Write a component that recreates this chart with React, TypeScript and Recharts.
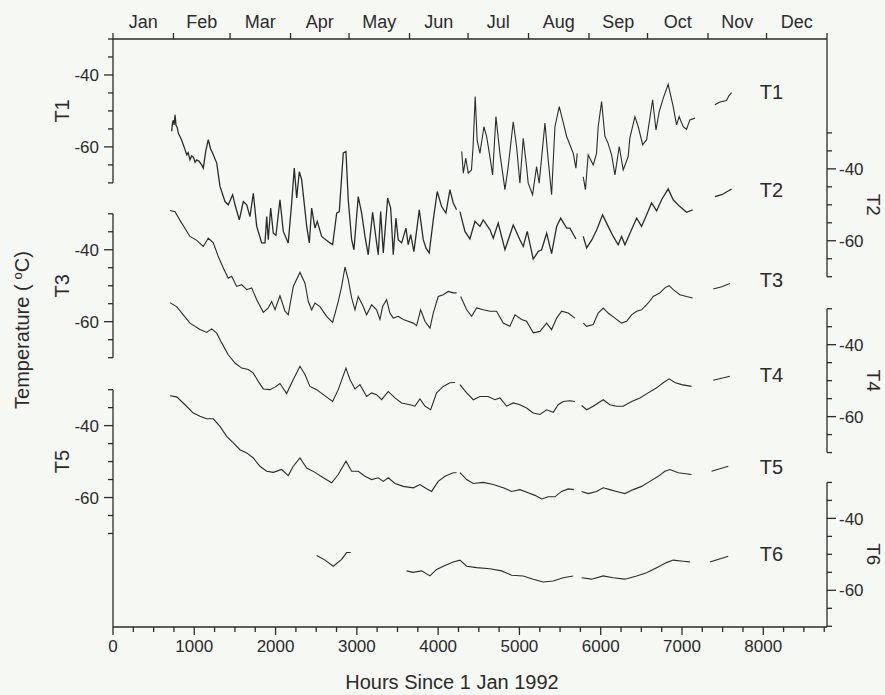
import { LineChart, Line, XAxis, YAxis, ReferenceLine, ReferenceDot } from "recharts";

type Pt = [number, number | null];

const YEAR_HOURS = 8784;
const MONTHS = ["Jan", "Feb", "Mar", "Apr", "May", "Jun", "Jul", "Aug", "Sep", "Oct", "Nov", "Dec"];
const MONTH_STARTS = [0, 744, 1440, 2184, 2904, 3648, 4368, 5112, 5856, 6576, 7320, 8040, 8784];
const HOUR_TICKS = [0, 1000, 2000, 3000, 4000, 5000, 6000, 7000, 8000];
const AXIS_TEMPS = [-30, -35, -40, -45, -50, -55, -60, -65, -70];
const LABELLED_TEMPS = [-40, -60];

// hours since 1 Jan 1992, temperature (C); null = gap in record
const T1: Pt[] = [
  [4290, -61.3], [4310, -67.3], [4340, -63.1], [4370, -67.3], [4410, -66.4], [4430, -59.9], [4456, -46],
  [4480, -58.1], [4514, -61.8], [4563, -54.4], [4596, -57.1], [4637, -62.7], [4670, -67.8], [4711, -51.6],
  [4760, -61.8], [4822, -71.9], [4862, -65.5], [4924, -53], [4965, -59.9], [5006, -70.1], [5047, -57.6],
  [5088, -65.5], [5108, -70.1], [5162, -73.3], [5211, -65.5], [5243, -70.1], [5314, -53.4], [5354, -63.6],
  [5396, -73.3], [5437, -54.4], [5490, -48.8], [5531, -52.5], [5581, -57.1], [5621, -59.4], [5662, -61.8],
  [5695, -65.9], [5711, -61.8], [5750, null], [5785, -68.3], [5812, -71.9], [5846, -62.2], [5908, -65],
  [5949, -61.8], [5969, -54.4], [6011, -47.4], [6052, -57.1], [6089, -58.9], [6134, -62.2], [6175, -67.8],
  [6228, -59.9], [6277, -66.4], [6338, -62.7], [6359, -57.5], [6421, -51.6], [6462, -54.4], [6516, -59.4],
  [6565, -58], [6639, -46.9], [6680, -55.3], [6720, -50.2], [6769, -46.5], [6830, -42.6], [6892, -48.8],
  [6933, -53.9], [6965, -51.6], [7015, -54.4], [7056, -55.1], [7097, -52.5], [7159, -52], [7300, null],
  [7405, -48.3], [7466, -47.5], [7548, -47.1], [7577, -45.8], [7610, -44.9],
];

const T2: Pt[] = [
  [722, -29.6], [732, -27.2], [742, -26.5], [752, -27.8], [763, -25], [775, -27.9], [790, -28.5], [805, -30.2],
  [824, -31], [840, -31.8], [865, -33.3], [885, -34.6], [907, -36.1], [925, -35.5], [947, -37.5], [968, -36.4],
  [990, -36.8], [1010, -38.2], [1030, -37.5], [1060, -37.9], [1091, -38.9], [1111, -39.8], [1140, -35.2],
  [1172, -31.9], [1200, -34.4], [1234, -36.1], [1276, -38.4], [1316, -44.9], [1378, -49.1], [1418, -50],
  [1472, -47.2], [1501, -50], [1554, -54.2], [1603, -49.1], [1645, -50], [1685, -53.3], [1726, -46.8],
  [1768, -56], [1829, -60.6], [1870, -60.6], [1891, -53.3], [1910, -59.7], [1940, -50.9], [1972, -57.9],
  [2005, -58.5], [2054, -48.6], [2095, -57.4], [2156, -60.6], [2198, -49.5], [2230, -39.8], [2260, -48.1],
  [2292, -40.8], [2321, -43], [2383, -56], [2415, -60.6], [2444, -50.9], [2485, -56.5], [2513, -54.6],
  [2567, -58.8], [2669, -60.6], [2702, -61.1], [2752, -52.3], [2784, -51.9], [2833, -35.6], [2866, -35.2],
  [2894, -48.6], [2936, -59.7], [2964, -62.5], [3017, -47.7], [3059, -52.3], [3100, -58.8], [3140, -63.9],
  [3194, -52.1], [3243, -60.6], [3263, -63.9], [3293, -51.9], [3325, -63.4], [3379, -48.1], [3416, -50.9],
  [3448, -63.9], [3481, -53.7], [3509, -59.7], [3551, -60.6], [3604, -56.5], [3632, -61.1], [3662, -58.3],
  [3702, -63], [3768, -51.4], [3817, -59.7], [3850, -62], [3890, -63.4], [3940, -54.2], [3989, -46.3],
  [4043, -50.5], [4096, -52.3], [4145, -45.8], [4186, -49.5], [4227, -51.4], [4248, null], [4268, -51.9],
  [4330, -57.4], [4391, -59.5], [4453, -54.6], [4514, -56], [4555, -54.2], [4637, -56.9], [4678, -59.3],
  [4739, -55.1], [4822, -62.5], [4924, -55.6], [5006, -59.7], [5047, -61.6], [5096, -57.4], [5170, -65.1],
  [5231, -63], [5273, -62.5], [5335, -57.9], [5396, -63.6], [5458, -56], [5507, -53.7], [5581, -56.5],
  [5621, -56.5], [5695, -59.5], [5740, null], [5785, -58.8], [5827, -62], [5892, -59.7], [5953, -56.9],
  [6023, -52.8], [6092, -56], [6154, -58.8], [6215, -61.1], [6257, -58.8], [6298, -61.1], [6380, -56.9],
  [6442, -53.7], [6503, -56], [6565, -52.8], [6626, -49.5], [6688, -51.7], [6749, -48.6], [6830, -45.6],
  [6892, -48.6], [6974, -50.5], [7056, -52.1], [7130, -51.4], [7300, null], [7405, -47.7], [7490, -47.2],
  [7610, -45.6],
];

const T3: Pt[] = [
  [700, -29.1], [763, -29.4], [845, -32.6], [947, -36.3], [1030, -37.4], [1111, -39.1], [1172, -36.8],
  [1234, -38.1], [1295, -41.9], [1357, -45.1], [1418, -47.9], [1460, -47.4], [1521, -50.2], [1583, -49.7],
  [1645, -51.1], [1706, -50.6], [1768, -53.9], [1849, -57.4], [1910, -56.2], [1952, -54.4], [1993, -56.7],
  [2054, -52.8], [2116, -57.1], [2156, -58.1], [2218, -50.2], [2300, -46.3], [2362, -49.3], [2403, -54.4],
  [2444, -56.7], [2485, -54.8], [2546, -55.8], [2628, -58.5], [2702, -60.2], [2771, -54.4], [2813, -50.2],
  [2854, -44.8], [2894, -48.3], [2936, -53.4], [2977, -56.7], [3017, -53], [3079, -55.8], [3120, -58.1],
  [3182, -55.3], [3243, -56.7], [3284, -59.4], [3317, -55.8], [3366, -53.9], [3407, -57.6], [3448, -59],
  [3509, -58.5], [3571, -59.4], [3632, -59.9], [3694, -60.4], [3735, -61.1], [3785, -56.7], [3838, -59.9],
  [3899, -61.8], [3940, -57.6], [4001, -53], [4063, -52.5], [4124, -51.6], [4186, -52], [4227, -52],
  [4250, null], [4277, -53], [4351, -56.7], [4412, -58.5], [4473, -56.2], [4555, -56.7], [4637, -57.1],
  [4719, -57.1], [4801, -60.4], [4883, -61.3], [4945, -58.1], [5027, -59.4], [5088, -59.9], [5170, -63.1],
  [5252, -62.7], [5335, -60.4], [5396, -62.2], [5458, -59], [5519, -57.1], [5600, -57.6], [5683, -59],
  [5740, null], [5785, -60.4], [5827, -61.3], [5908, -60.8], [5969, -57.6], [6031, -56.2], [6092, -57.6],
  [6175, -59], [6257, -60.4], [6318, -59.9], [6380, -58.1], [6442, -57.1], [6503, -56.7], [6585, -54.8],
  [6646, -53], [6728, -52], [6790, -50.6], [6842, -50], [6892, -51.1], [6974, -52.5], [7056, -53],
  [7130, -53.4], [7300, null], [7384, -50.9], [7490, -50.3], [7589, -49.4],
];

const T4: Pt[] = [
  [700, -28.3], [783, -29.4], [865, -31.7], [947, -34], [1070, -35.8], [1152, -36.6], [1214, -35.6],
  [1276, -36.8], [1337, -39.5], [1418, -42.8], [1501, -45.1], [1583, -46.5], [1664, -46.9], [1726, -47.9],
  [1787, -50.2], [1849, -52.3], [1931, -52.5], [1993, -51.8], [2054, -50.8], [2136, -53.6], [2218, -49.7],
  [2300, -46], [2362, -48.3], [2423, -51.6], [2506, -52.5], [2587, -53.9], [2702, -55.8], [2771, -52.5],
  [2866, -46.5], [2915, -49.7], [2977, -52.3], [3038, -51.1], [3120, -54.4], [3182, -53.4], [3243, -53.9],
  [3305, -55.3], [3386, -53], [3469, -54.8], [3551, -56.2], [3653, -56.7], [3715, -57.1], [3776, -55.1],
  [3838, -57.1], [3908, -58.1], [3981, -53.4], [4063, -51.6], [4145, -50.6], [4207, -50.5], [4240, null],
  [4268, -51.1], [4351, -53.4], [4432, -55.3], [4514, -54.4], [4616, -54.4], [4699, -55.3], [4760, -54.8],
  [4842, -57.1], [4924, -56.2], [5006, -56.7], [5088, -57.6], [5170, -59], [5252, -59.4], [5335, -58.1],
  [5416, -58.8], [5477, -56.7], [5539, -55.8], [5621, -55.6], [5683, -55.8], [5725, null], [5765, -56.9],
  [5827, -58.1], [5908, -57.1], [6031, -55.3], [6113, -56.7], [6195, -57.1], [6277, -57.1], [6380, -55.8],
  [6482, -54.8], [6585, -53.4], [6688, -52], [6769, -50.6], [6842, -49.5], [6912, -50.5], [6995, -51.1],
  [7118, -51.6], [7300, null], [7384, -49.9], [7589, -48.8],
];

const T5: Pt[] = [
  [700, -31.7], [783, -32], [886, -34.2], [988, -36.5], [1070, -37.4], [1152, -38.1], [1234, -38.1],
  [1316, -40.2], [1398, -43], [1480, -44.8], [1562, -46.7], [1645, -47.6], [1726, -49], [1808, -51.3],
  [1890, -52.7], [1972, -53], [2075, -52.2], [2156, -53.9], [2218, -51.3], [2300, -49], [2383, -51.8],
  [2485, -53], [2587, -54.5], [2690, -55.9], [2771, -53.6], [2866, -49.9], [2936, -52.7], [3017, -52.7],
  [3100, -54.1], [3182, -55], [3263, -54.5], [3325, -55.5], [3386, -54.5], [3469, -56.1], [3571, -56.9],
  [3694, -57.3], [3776, -56.4], [3838, -57.3], [3920, -58.3], [4001, -55.5], [4084, -54.1], [4186, -53.1],
  [4227, -53.1], [4248, null], [4268, -53.1], [4351, -55], [4432, -56.1], [4555, -55.8], [4678, -56.4],
  [4801, -57.3], [4904, -58.3], [5006, -57.8], [5108, -58.7], [5191, -59.4], [5273, -60.4], [5354, -59.8],
  [5437, -59.8], [5519, -58.3], [5600, -57.6], [5670, -57.8], [5720, null], [5765, -58.3], [5846, -58.9],
  [5949, -58.3], [6031, -57.3], [6113, -57.8], [6195, -58.3], [6298, -58.9], [6400, -57.8], [6503, -56.9],
  [6605, -55.5], [6708, -54.1], [6790, -52.7], [6851, -52.2], [6953, -53.1], [7118, -53.6], [7250, null],
  [7364, -52.7], [7569, -51.3],
];

const T6: Pt[] = [
  [2506, -50.3], [2608, -51.6], [2710, -53.3], [2813, -51.4], [2874, -49.5], [2923, -49.5], [3200, null],
  [3612, -54.6], [3690, -55], [3797, -54.6], [3899, -56], [3981, -54.2], [4084, -53.1], [4186, -52.1],
  [4268, -51.6], [4351, -53.3], [4473, -53.7], [4637, -54], [4781, -54.6], [4904, -55.8], [5047, -56],
  [5170, -56.9], [5293, -57.7], [5416, -57.4], [5539, -56.5], [5662, -56], [5715, null], [5765, -56.5],
  [5888, -56.9], [6031, -56], [6154, -56.5], [6298, -56.9], [6442, -56], [6565, -55.1], [6688, -53.7],
  [6810, -52.3], [6892, -51.6], [7015, -51.9], [7097, -52.1], [7250, null], [7343, -52.1], [7569, -50.5],
];

const SERIES_NAMES = ["T1", "T2", "T3", "T4", "T5", "T6"];
const SERIES_DATA = [T1, T2, T3, T4, T5, T6];
// temperature (on each trace's own axis) where the trace name sits
const NAME_TEMPS = [-44.7, -45.8, -48.3, -48.3, -51.4, -50];

// vertical stacking of the six traces (degrees shifted down)
const STACK = [0, 26.1, 48.6, 75, 97.5, 123.3];
const Y_DOMAIN: [number, number] = [-193.5, -30];
const NAME_HOUR = 8100;

const INK = "#2b2b2b";
const FONT = "'Liberation Sans', Arial, Helvetica, sans-serif";

const key = (v: number) => v.toFixed(2);

function buildTicks(indices: number[]) {
  const info = new Map<string, { temp: number; name: string }>();
  const ticks: number[] = [];
  for (const i of indices) {
    for (const t of AXIS_TEMPS) {
      const pos = t - STACK[i];
      ticks.push(pos);
      info.set(key(pos), { temp: t, name: SERIES_NAMES[i] });
    }
  }
  return { ticks, info };
}

const LEFT = buildTicks([0, 2, 4]);
const RIGHT = buildTicks([1, 3, 5]);

const MONTH_MIDS = MONTHS.map((_, i) => (MONTH_STARTS[i] + MONTH_STARTS[i + 1]) / 2);
const BOTTOM_TICKS: number[] = [];
for (let h = 0; h <= YEAR_HOURS; h += 250) BOTTOM_TICKS.push(h);

const tickText = { fontFamily: FONT, fontSize: 17, fill: INK };
const titleText = { fontFamily: FONT, fontSize: 20, fill: INK };

function LeftTick(props: any) {
  const { x, y, payload } = props;
  const info = LEFT.info.get(key(payload.value));
  if (!info) return null;
  const major = LABELLED_TEMPS.includes(info.temp);
  return (
    <g>
      <line x1={x - (major ? 9 : 5)} x2={x} y1={y} y2={y} stroke={INK} strokeWidth={1.3} />
      {major && (
        <text x={x - 14} y={y} dy="0.36em" textAnchor="end" {...tickText}>
          {info.temp}
        </text>
      )}
      {info.temp === -50 && (
        <text transform={`translate(${x - 51},${y}) rotate(-90)`} textAnchor="middle" dy="0.36em" {...titleText}>
          {info.name}
        </text>
      )}
    </g>
  );
}

function RightTick(props: any) {
  const { x, y, payload } = props;
  const info = RIGHT.info.get(key(payload.value));
  if (!info) return null;
  const major = LABELLED_TEMPS.includes(info.temp);
  return (
    <g>
      <line x1={x} x2={x + (major ? 9 : 5)} y1={y} y2={y} stroke={INK} strokeWidth={1.3} />
      {major && (
        <text x={x + 12} y={y} dy="0.36em" textAnchor="start" {...tickText}>
          {info.temp}
        </text>
      )}
      {info.temp === -50 && (
        <text
          transform={`translate(${x + 46},${y}) rotate(90)`}
          textAnchor="middle"
          dy="0.34em"
          fontFamily={FONT}
          fontSize={19}
          fill={INK}
        >
          {info.name}
        </text>
      )}
    </g>
  );
}

function MonthTick(props: any) {
  const { x, y, payload } = props;
  const v = payload.value;
  if (MONTH_STARTS.includes(v)) {
    return <line x1={x} x2={x} y1={y} y2={y - 6} stroke={INK} strokeWidth={1.3} />;
  }
  const m = MONTH_MIDS.findIndex((d) => Math.abs(d - v) < 1);
  if (m < 0) return null;
  return (
    <text x={x} y={y - 11} textAnchor="middle" fontFamily={FONT} fontSize={18} fill={INK}>
      {MONTHS[m]}
    </text>
  );
}

function HourTick(props: any) {
  const { x, y, payload } = props;
  const v = payload.value;
  const major = HOUR_TICKS.includes(v);
  return (
    <g>
      <line x1={x} x2={x} y1={y} y2={y + (major ? 8 : 5)} stroke={INK} strokeWidth={1.3} />
      {major && (
        <text x={x} y={y + 13} dy="0.71em" textAnchor="middle" {...tickText}>
          {v}
        </text>
      )}
    </g>
  );
}

function TempTitle(props: any) {
  const vb = props.viewBox ?? { x: 0, y: 39, width: 113, height: 588 };
  const cy = vb.y + vb.height / 2 - 3;
  return (
    <text transform={`translate(22,${cy}) rotate(-90)`} textAnchor="middle" dy="0.36em" {...titleText}>
      Temperature (
      <tspan dx="5" dy="-7" fontSize={13}>o</tspan>
      <tspan dy="7">C)</tspan>
    </text>
  );
}

export default function App() {
  const lines = SERIES_DATA.map((pts, i) =>
    pts.map(([h, t]) => ({ h, y: t == null ? null : t - STACK[i] }))
  );

  const leftSegs: [number, number][] = [
    [-30, -70 - STACK[0]],
    [-30 - STACK[2], -70 - STACK[2]],
    [-30 - STACK[4], Y_DOMAIN[0]],
  ];
  const rightSegs: [number, number][] = [
    [-30, -70 - STACK[1]],
    [-30 - STACK[3], -70 - STACK[3]],
    [-30 - STACK[5], Y_DOMAIN[0]],
  ];

  return (
    <div
      style={{
        position: "absolute",
        left: 0,
        top: 0,
        width: 885,
        height: 695,
        background: "#f6f8f4",
      }}
    >
      <LineChart width={885} height={695} margin={{ top: 0, right: 0, bottom: 0, left: 0 }}>
        <XAxis
          xAxisId="bottom"
          dataKey="h"
          type="number"
          domain={[0, YEAR_HOURS]}
          ticks={BOTTOM_TICKS}
          interval={0}
          tick={<HourTick />}
          tickLine={false}
          tickSize={0}
          tickMargin={0}
          height={68}
          axisLine={{ stroke: INK, strokeWidth: 1.3 }}
          allowDataOverflow
          label={{
            value: "Hours Since 1 Jan 1992",
            position: "insideBottom",
            offset: 6,
            dx: -18,
            style: titleText,
          }}
        />
        <XAxis
          xAxisId="top"
          dataKey="h"
          orientation="top"
          type="number"
          domain={[0, YEAR_HOURS]}
          ticks={[...MONTH_STARTS, ...MONTH_MIDS].sort((a, b) => a - b)}
          interval={0}
          tick={<MonthTick />}
          tickLine={false}
          tickSize={0}
          tickMargin={0}
          height={39}
          axisLine={{ stroke: INK, strokeWidth: 1.3 }}
          allowDataOverflow
        />
        <YAxis
          yAxisId="left"
          type="number"
          domain={Y_DOMAIN}
          ticks={LEFT.ticks}
          interval={0}
          tick={<LeftTick />}
          tickLine={false}
          tickSize={0}
          tickMargin={0}
          width={113}
          axisLine={false}
          allowDataOverflow
          label={<TempTitle />}
        />
        <YAxis
          yAxisId="right"
          orientation="right"
          type="number"
          domain={Y_DOMAIN}
          ticks={RIGHT.ticks}
          interval={0}
          tick={<RightTick />}
          tickLine={false}
          tickSize={0}
          tickMargin={0}
          width={58}
          axisLine={false}
          allowDataOverflow
        />
        {leftSegs.map(([a, b], i) => (
          <ReferenceLine
            key={`l${i}`}
            xAxisId="bottom"
            yAxisId="left"
            segment={[{ x: 0, y: a }, { x: 0, y: b }]}
            stroke={INK}
            strokeWidth={1.3}
            ifOverflow="visible"
          />
        ))}
        {rightSegs.map(([a, b], i) => (
          <ReferenceLine
            key={`r${i}`}
            xAxisId="bottom"
            yAxisId="left"
            segment={[{ x: YEAR_HOURS, y: a }, { x: YEAR_HOURS, y: b }]}
            stroke={INK}
            strokeWidth={1.3}
            ifOverflow="visible"
          />
        ))}
        {lines.map((d, i) => (
          <Line
            key={SERIES_NAMES[i]}
            xAxisId={i === 0 ? "top" : "bottom"}
            yAxisId={i % 2 === 0 ? "left" : "right"}
            data={d}
            dataKey="y"
            type="linear"
            stroke={INK}
            strokeWidth={i === 1 ? 1.3 : 1.1}
            dot={false}
            connectNulls={false}
            isAnimationActive={false}
          />
        ))}
        {SERIES_NAMES.map((n, i) => (
          <ReferenceDot
            key={`n${n}`}
            xAxisId="bottom"
            yAxisId="left"
            x={NAME_HOUR}
            y={NAME_TEMPS[i] - STACK[i]}
            r={0}
            fill="none"
            stroke="none"
            ifOverflow="visible"
            label={{ value: n, position: "center", style: titleText }}
          />
        ))}
      </LineChart>
    </div>
  );
}
